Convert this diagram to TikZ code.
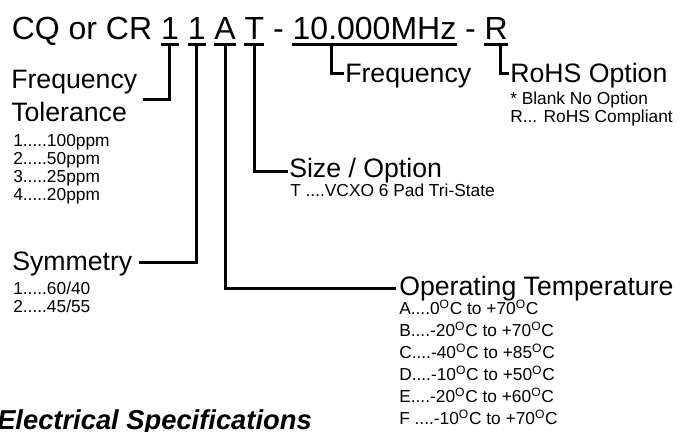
\documentclass[tikz,border=0pt]{standalone}
\usepackage{fontspec}
\setmainfont{Liberation Sans}

\begin{document}
\begin{tikzpicture}[
            x=0.75pt, y=-0.75pt,
            code/.style={
                anchor=base west, inner sep=0pt, font=\fontsize{24}{28}\selectfont
            },
            heading/.style={
                anchor=base west, inner sep=0pt, font=\fontsize{20}{24}\selectfont
            },
            item/.style={
                anchor=base west, inner sep=0pt, font=\fontsize{13}{13.5}\selectfont
            },
            bar/.style={line width=2.25pt},
            lead/.style={line width=2.25pt}
        ]
        \useasboundingbox (0,0) rectangle (686,432);

        % part number
        \node[code] (cq) at (11.5, 39) {CQ or CR};
        \node[code] (tol) at (160.8, 39) {1};
        \node[code] (sym) at (187.5, 39) {1};
        \node[code] (temp) at (214.2, 39) {A};
        \node[code] (size) at (244.4, 39) {T};
        \node[code] (dashA) at (272.9, 39) {-};
        \node[code] (freq) at (292.4, 39) {10.000MHz};
        \node[code] (dashB) at (464.9, 39) {-};
        \node[code] (rohs) at (484.4, 39) {R};

        % headings and options
        \node[heading] (tolhd) at (11, 88) {Frequency};
        \node[heading] (tolhdB) at (11, 121) {Tolerance};
        \node[item] (tolopt) at (13, 146) {\begin{tabular}[t]{@{}l@{}}
            1.....100ppm\\2.....50ppm\\3.....25ppm\\4.....20ppm
        \end{tabular}};
        \node[heading] (symhd) at (12, 270) {Symmetry};
        \node[item] (symopt) at (13, 294) {\begin{tabular}[t]{@{}l@{}}
            1.....60/40\\2.....45/55
        \end{tabular}};
        \node[heading] (sizehd) at (289, 177) {Size / Option};
        \node[item] (sizeopt) at (290, 196) {T ....VCXO 6 Pad Tri-State};
        \node[heading] (temphd) at (399, 295) {Operating Temperature};
        \node[item, font=\fontsize{13}{16.5}\selectfont] (tempopt) at (399, 314) {\begin{tabular}[t]{@{}l@{}}
            A....0\textsuperscript{O}C to +70\textsuperscript{O}C\\
            B....-20\textsuperscript{O}C to +70\textsuperscript{O}C\\
            C....-40\textsuperscript{O}C to +85\textsuperscript{O}C\\
            D....-10\textsuperscript{O}C to +50\textsuperscript{O}C\\
            E....-20\textsuperscript{O}C to +60\textsuperscript{O}C\\
            F ....-10\textsuperscript{O}C to +70\textsuperscript{O}C
        \end{tabular}};
        \node[heading] (freqhd) at (345, 82) {Frequency};
        \node[heading] (rohshd) at (510, 82) {RoHS Option};
        \node[item] (rohsopt) at (510, 104) {\begin{tabular}[t]{@{}l@{}}
            * Blank No Option\\R... RoHS Compliant
        \end{tabular}};
        \node[anchor=base west, inner sep=0pt, font=\fontsize{20.5}{24}\selectfont\bfseries\itshape] (elec) at (-3, 429) {Electrical Specifications};

        % bars
        \draw[bar] ([yshift=-3.75pt]tol.base west) -- ([yshift=-3.75pt]tol.base east);
        \draw[bar] ([yshift=-3.75pt]sym.base west) -- ([yshift=-3.75pt]sym.base east);
        \draw[bar] ([yshift=-3.75pt]temp.base west) -- ([yshift=-3.75pt]temp.base east);
        \draw[bar] ([yshift=-3.75pt]size.base west) -- ([yshift=-3.75pt]size.base east);
        \draw[bar] ([yshift=-3.75pt]freq.base west) -- ([yshift=-3.75pt]freq.base east);
        \draw[bar] ([yshift=-3.75pt]rohs.base west) -- ([yshift=-3.75pt]rohs.base east);

        % leaders
        \draw[lead] ([yshift=-3.75pt]tol.base) |- ([xshift=3.75pt, yshift=-8.25pt]tolhd.base east);
        \draw[lead] ([yshift=-3.75pt]sym.base) |- ([xshift=4.5pt, yshift=6pt]symhd.base east);
        \draw[lead] ([yshift=-3.75pt]temp.base) |- ([xshift=-2.25pt, yshift=5.25pt]temphd.base west);
        \draw[lead] ([yshift=-3.75pt]size.base) |- ([xshift=-0.75pt, yshift=4.5pt]sizehd.base west);
        \draw[lead] ([xshift=29pt, yshift=-3.75pt]freq.base west) |- ([xshift=-0.75pt, yshift=6.75pt]freqhd.base west);
        \draw[lead] ([xshift=3pt, yshift=-3.75pt]rohs.base) |- ([xshift=-0.75pt, yshift=6.75pt]rohshd.base west);
        \end{tikzpicture}
\end{document}
